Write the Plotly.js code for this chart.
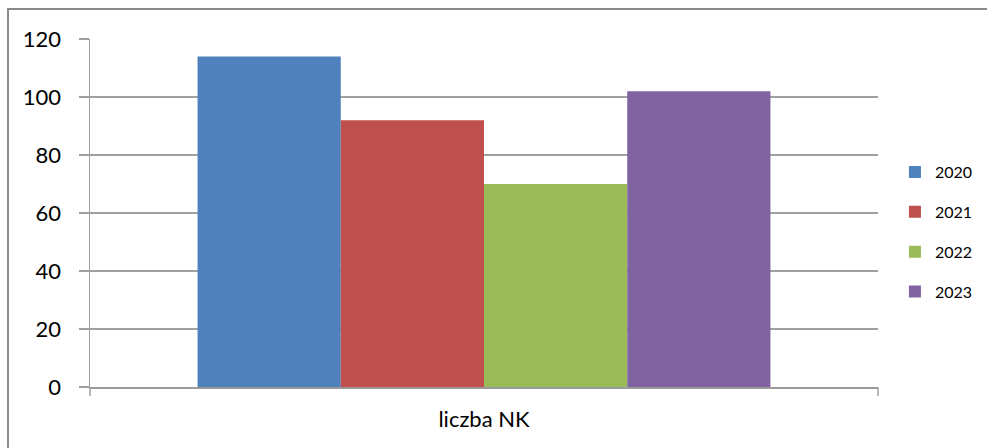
<!DOCTYPE html>
<html>
<head>
<meta charset="utf-8">
<script src="https://cdn.plot.ly/plotly-3.0.1.min.js"></script>
<style>
  html, body { margin: 0; padding: 0; background: #fff; overflow: hidden; }
  #chart { width: 987px; height: 448px; }
  #frame { position: absolute; left: 7px; top: 8px; width: 1000px; height: 460px;
           border-left: 2px solid #8a8a8a; border-top: 2px solid #8a8a8a; pointer-events: none; }
</style>
</head>
<body>
<div id="chart"></div>
<div id="frame"></div>
<script>
const categories = ['liczba NK'];
const seriesNames = ['2020', '2021', '2022', '2023'];
const seriesValues = [[114], [92], [70], [102]];
const seriesColors = ['#4F81BD', '#C0504D', '#9BBB59', '#8064A2'];
const yTicks = [0, 20, 40, 60, 80, 100, 120];

const font = 'Lato, "Open Sans", "DejaVu Sans", sans-serif';

const traces = seriesNames.map((name, i) => ({
  type: 'bar',
  name: name,
  x: categories,
  y: seriesValues[i],
  legendgroup: name,
  marker: { color: seriesColors[i], line: { width: 0 } },
  hoverinfo: 'skip'
}));

const layout = {
  width: 987,
  height: 448,
  margin: { l: 90, r: 109, t: 39, b: 61, autoexpand: false },
  paper_bgcolor: '#ffffff',
  plot_bgcolor: '#ffffff',
  barmode: 'group',
  bargap: 0.273,
  bargroupgap: 0,
  showlegend: true,
  legend: {
    x: 1.0215, xanchor: 'left',
    y: 0.445, yanchor: 'middle',
    font: { family: font, size: 16, color: '#000' },
    tracegroupgap: 16,
    itemwidth: 30,
    bgcolor: 'rgba(0,0,0,0)'
  },
  xaxis: {
    type: 'category',
    showgrid: false,
    showline: true,
    linecolor: '#9a9a9a',
    linewidth: 1.5,
    ticks: '',
    ticklabelstandoff: 12,
    tickfont: { family: font, size: 22, color: '#000' },
    zeroline: false,
    fixedrange: true
  },
  yaxis: {
    range: [0, 120],
    tickvals: yTicks,
    ticktext: yTicks.map(String),
    showgrid: true,
    gridcolor: '#a0a0a0',
    gridwidth: 1.2,
    showline: true,
    linecolor: '#a0a0a0',
    linewidth: 1.5,
    ticks: 'outside',
    ticklen: 10,
    tickcolor: '#a0a0a0',
    tickwidth: 1.5,
    ticklabelstandoff: 13,
    tickfont: { family: font, size: 22, color: '#000' },
    zeroline: false,
    fixedrange: true
  },
  shapes: [
    { type: 'line', xref: 'paper', yref: 'paper', x0: 0, x1: 0, y0: 0, y1: -0.026,
      line: { color: '#a0a0a0', width: 1.5 } },
    { type: 'line', xref: 'paper', yref: 'paper', x0: 1, x1: 1, y0: 0, y1: -0.026,
      line: { color: '#a0a0a0', width: 1.5 } }
  ]
};

Plotly.newPlot('chart', traces, layout, { staticPlot: true, displayModeBar: false });
</script>
</body>
</html>
